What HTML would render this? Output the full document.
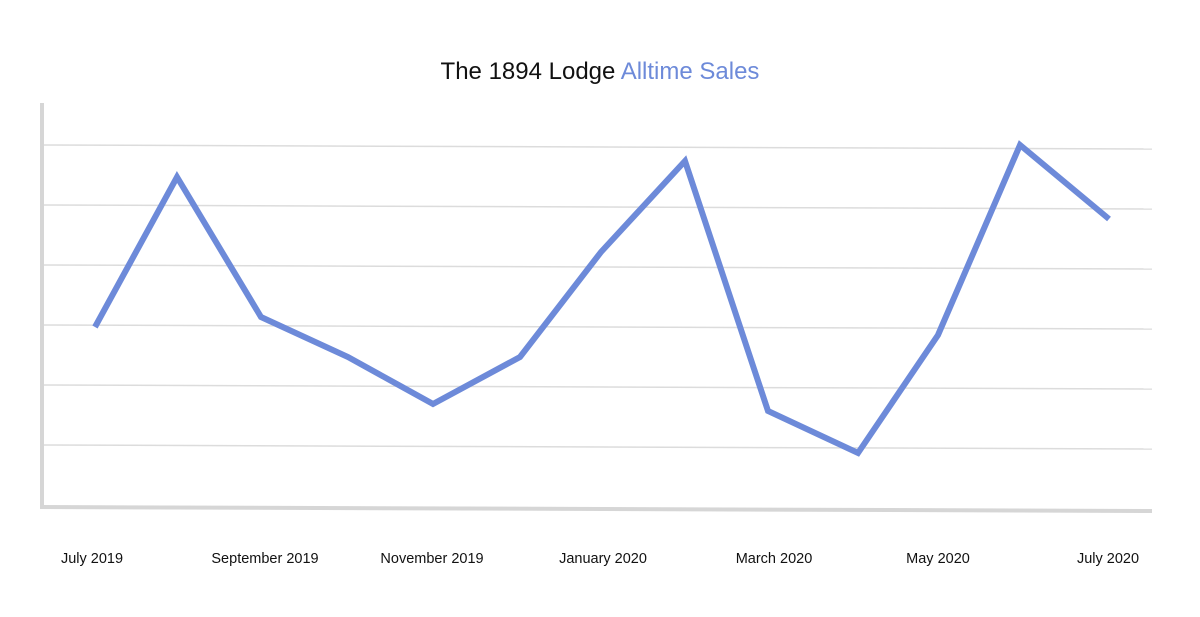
<!DOCTYPE html>
<html><head><style>
body{margin:0;background:#fff;}
text{font-family:"Liberation Sans",sans-serif;}
</style></head><body>
<svg width="1200" height="612" viewBox="0 0 1200 612" xmlns="http://www.w3.org/2000/svg">
<rect width="1200" height="612" fill="#fff"/>
<text x="600" y="79" text-anchor="middle" font-size="24" fill="#111">The 1894 Lodge <tspan fill="#6d8ad9">Alltime Sales</tspan></text>
<g stroke="#dcdcdc" stroke-width="1.5">
<line x1="44" y1="145" x2="1152" y2="149"/>
<line x1="44" y1="205" x2="1152" y2="209"/>
<line x1="44" y1="265" x2="1152" y2="269"/>
<line x1="44" y1="325" x2="1152" y2="329"/>
<line x1="44" y1="385" x2="1152" y2="389"/>
<line x1="44" y1="445" x2="1152" y2="449"/>
</g>
<line x1="42" y1="103" x2="42" y2="509" stroke="#d6d6d6" stroke-width="4"/>
<line x1="40" y1="507" x2="1152" y2="511" stroke="#d6d6d6" stroke-width="4"/>
<polyline fill="none" stroke="#6d8ad9" stroke-width="6" stroke-linejoin="miter" points="95,327 177,177 261,317 348,357 433,404 520,357 601,252 685,161 768,411 858,453 938,335 1020,145 1109,219"/>
<g font-size="14.5" fill="#111" text-anchor="middle">
<text x="92" y="563">July 2019</text>
<text x="265" y="563">September 2019</text>
<text x="432" y="563">November 2019</text>
<text x="603" y="563">January 2020</text>
<text x="774" y="563">March 2020</text>
<text x="938" y="563">May 2020</text>
<text x="1108" y="563">July 2020</text>
</g>
</svg>
</body></html>
